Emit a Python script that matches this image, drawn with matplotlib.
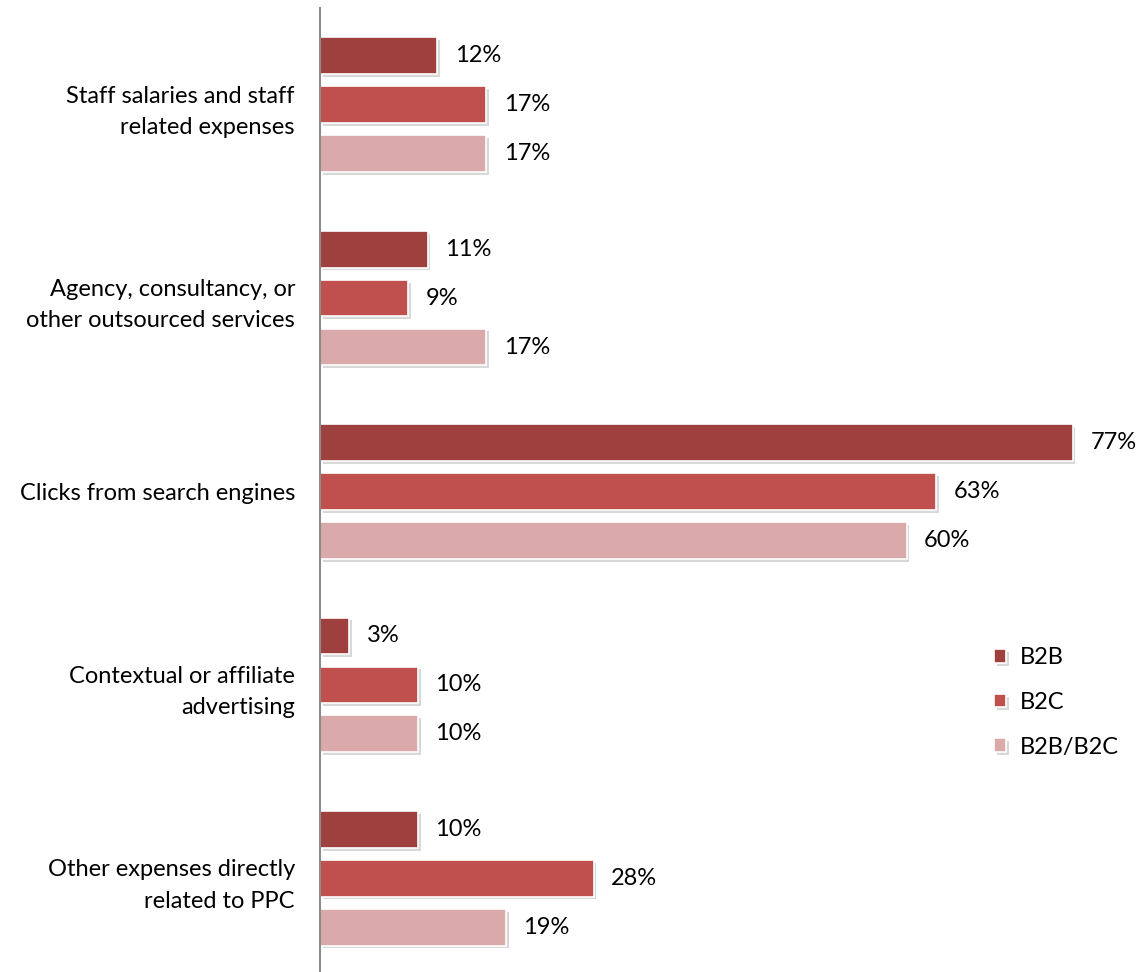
import numpy as np
from matplotlib import pyplot as plt
from matplotlib import patheffects as pe

plt.rcParams['font.family'] = ['Lato', 'DejaVu Sans']

categories = ["Staff salaries and staff\nrelated expenses",
              "Agency, consultancy, or\nother outsourced services",
              "Clicks from search engines",
              "Contextual or affiliate\nadvertising",
              "Other expenses directly\nrelated to PPC"]
series_names = ["B2B", "B2C", "B2B/B2C"]
b2b = [12, 11, 77, 3, 10]
b2c = [17, 9, 63, 10, 28]
both = [17, 17, 60, 10, 19]
colors = ["#9E413E", "#C0504D", "#D9AAA9"]

fig = plt.figure(figsize=(11.39, 9.72), dpi=100)
ax = fig.add_axes([320/1139, -3/972, 782/1139, 967/972])

y = np.arange(len(categories))
offsets = [-0.253, 0.0, 0.253]
shadow = [pe.SimplePatchShadow(offset=(2, -2), shadow_rgbFace='gray', alpha=0.3), pe.Normal()]

for vals, off, col, name in zip([b2b, b2c, both], offsets, colors, series_names):
    bars = ax.barh(y + off, vals, height=0.19, color=col, edgecolor='white',
                   linewidth=1.2, label=name, zorder=2)
    for b in bars:
        b.set_path_effects(shadow)
    for yy, v in zip(y + off, vals):
        ax.text(v + 1.8, yy, f"{v}%", va='center', ha='left', fontsize=17)

ax.set_xlim(0, 80)
ax.set_ylim(4.5, -0.5)
ax.set_yticks(y)
ax.set_yticklabels(categories, fontsize=17, linespacing=1.6)
ax.tick_params(axis='y', length=0, pad=18)
ax.set_xticks([])
for s in ['top', 'right', 'bottom']:
    ax.spines[s].set_visible(False)
ax.spines['left'].set_color('#8c8c8c')
ax.spines['left'].set_linewidth(1.5)

leg = ax.legend(loc='upper left', bbox_to_anchor=(0.847, 0.351), frameon=False,
                fontsize=17, handlelength=0.5, handleheight=0.5, handletextpad=0.6,
                labelspacing=1.0, borderpad=0)

fig.savefig("out.png", dpi=100)
